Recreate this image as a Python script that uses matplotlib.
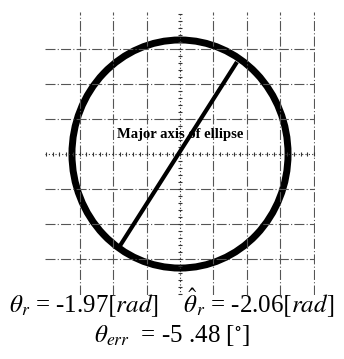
import matplotlib
matplotlib.use('Agg')
import matplotlib.pyplot as plt
from matplotlib.patches import Ellipse

plt.rcParams['mathtext.fontset'] = 'stix'
plt.rcParams['font.family'] = 'Liberation Serif'

# grid positions (data units)
grid_x = [-3, -2, -1, 1, 2, 3, 4]
grid_y = [-3, -2, -1, 1, 2, 3]

# fitted ellipse
ell_center = (0.0, 0.0)
ell_width = 6.45
ell_height = 6.52

# major axis end points
axis_x = [-1.85, 1.70]
axis_y = [-2.71, 2.63]

theta_r = '-1.97'
theta_r_hat = '-2.06'
theta_err = '-5 .48'

fig = plt.figure(figsize=(3.44, 3.59), dpi=100)
ax = fig.add_axes([45/344, 1 - 295/359, 270/344, 283/359])
ax.set_xlim(-4.03, 4.03)
ax.set_ylim(-4.03, 4.06)
ax.axis('off')

for x in grid_x:
    ax.axvline(x, color='#555555', lw=0.8, ls=(0, (9, 2, 1, 2)))
for y in grid_y:
    ax.axhline(y, color='#555555', lw=0.8, ls=(0, (9, 2, 1, 2)))

# centre lines with small cross ticks
ax.axvline(0, color='#333333', lw=0.8, ls=(0, (1, 2)))
ax.axhline(0, color='#333333', lw=0.8, ls=(0, (1, 2)))
ticks = [i * 0.2 for i in range(-20, 21)]
ax.plot([0] * len(ticks), ticks, ls='none', marker='_', ms=3, mew=0.8, color='#333333')
ax.plot(ticks, [0] * len(ticks), ls='none', marker='|', ms=3, mew=0.8, color='#333333')

ax.add_patch(Ellipse(ell_center, ell_width, ell_height, fill=False, lw=5, ec='black'))
ax.plot(axis_x, axis_y, color='black', lw=3, solid_capstyle='butt')

ax.text(0, 0.55, 'Major axis of ellipse', ha='center', va='center',
        fontsize=10.5, fontweight='bold', family='Liberation Serif')

fig.text(0.5, 1 - 303/359,
         r'$\theta_r$ = %s$[rad]$    $\hat{\theta}_r$ = %s$[rad]$' % (theta_r, theta_r_hat),
         ha='center', va='center', fontsize=18)
fig.text(0.5, 1 - 335/359,
         r'$\theta_{err}$  = %s [$^{\circ}$]' % theta_err,
         ha='center', va='center', fontsize=18)

fig.savefig('out.png', dpi=100)
